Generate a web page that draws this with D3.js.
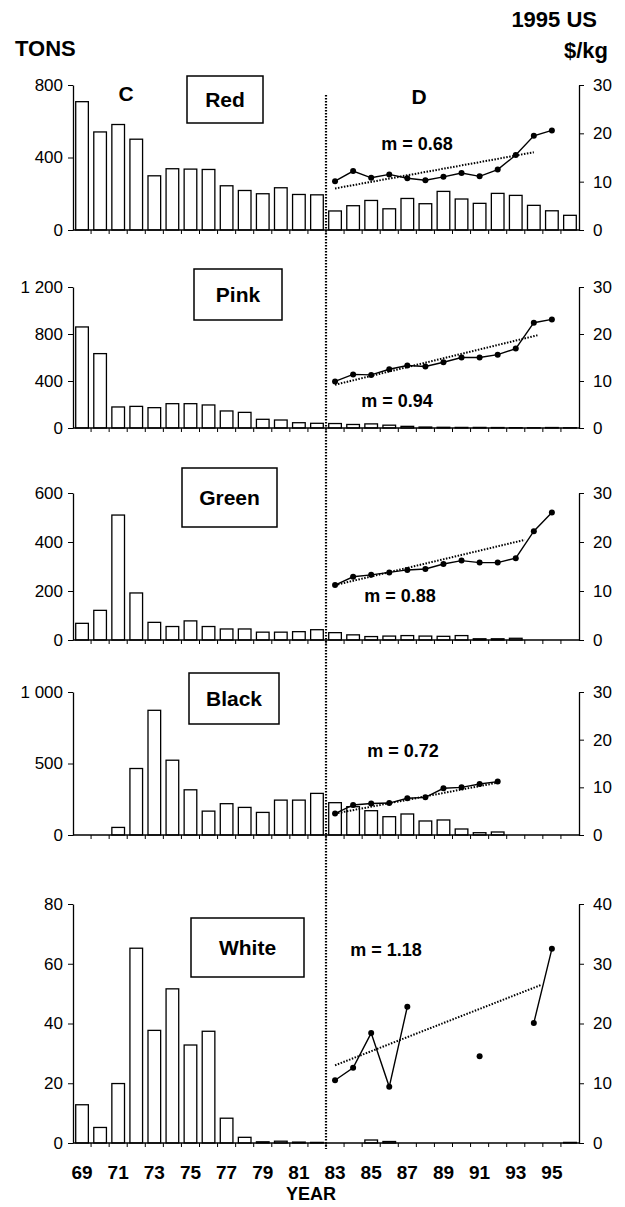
<!DOCTYPE html>
<html>
<head>
<meta charset="utf-8">
<script src="https://cdn.jsdelivr.net/npm/d3@7"></script>
<style>
  body { margin: 0; background: #fff; }
  text { font-family: "Liberation Sans", Arial, sans-serif; fill: #000; }
</style>
</head>
<body>
<svg id="chart"></svg>
<script>
// catch years (19xx) and the years with price records
const years = [69, 70, 71, 72, 73, 74, 75, 76, 77, 78, 79, 80, 81, 82,
               83, 84, 85, 86, 87, 88, 89, 90, 91, 92, 93, 94, 95, 96];
const priceYears = [83, 84, 85, 86, 87, 88, 89, 90, 91, 92, 93, 94, 95];
const yearLabels = [69, 71, 73, 75, 77, 79, 81, 83, 85, 87, 89, 91, 93, 95];

// landings in tons, one value per year
const redTons   = [708, 541, 582, 501, 299, 338, 336, 334, 244, 218, 200, 233, 196, 194,
                   105, 134, 163, 117, 174, 145, 213, 171, 147, 202, 191, 136, 106, 81];
const pinkTons  = [860, 633, 179, 184, 173, 207, 207, 196, 145, 133, 74, 68, 45, 40,
                   38, 30, 35, 24, 14, 8, 6, 5, 5, 4, 3, 2, 4, 2];
const greenTons = [68, 121, 510, 192, 72, 55, 78, 55, 45, 45, 32, 32, 34, 42,
                   30, 21, 14, 16, 18, 16, 15, 18, 5, 5, 7, 0, 0, 0];
const blackTons = [0, 0, 53, 465, 872, 523, 316, 167, 219, 193, 158, 244, 244, 291,
                   226, 198, 170, 128, 147, 98, 105, 42, 16, 21, 0, 0, 0, 0];
const whiteTons = [12.8, 5.2, 19.9, 65.2, 37.7, 51.6, 32.8, 37.4, 8.3, 1.9, 0.4, 0.6, 0.3, 0.2,
                   0, 0, 1, 0.5, 0, 0, 0, 0, 0, 0, 0, 0, 0, 0.2];

// price, 1995 US $/kg (null = no record)
const redPrice   = [10.1, 12.2, 10.8, 11.5, 10.7, 10.3, 11.0, 11.8, 11.1, 12.5, 15.5, 19.5, 20.6];
const pinkPrice  = [9.9, 11.4, 11.3, 12.5, 13.3, 13.1, 14.0, 15.0, 15.0, 15.6, 16.9, 22.4, 23.1];
const greenPrice = [11.2, 12.9, 13.3, 13.8, 14.3, 14.5, 15.5, 16.2, 15.8, 15.8, 16.7, 22.2, 26.0];
const blackPrice = [4.5, 6.3, 6.6, 6.7, 7.7, 7.9, 9.8, 10.0, 10.7, 11.2, null, null, null];
const whitePrice = [10.5, 12.6, 18.4, 9.4, 22.8, null, null, null, 14.5, null, null, 20.1, 32.5];

// price trend: slope m, value at 83 and last year of the fitted line
const trendSlope = [0.68, 0.94, 0.88, 0.72, 1.18];
const trendStart = [8.6, 9.2, 11.2, 4.5, 13.0];
const trendEnd   = [94, 94.2, 93.5, 92, 94.4];

const species = ["Red", "Pink", "Green", "Black", "White"];
const tons = [redTons, pinkTons, greenTons, blackTons, whiteTons];
const prices = [redPrice, pinkPrice, greenPrice, blackPrice, whitePrice];
const tonTicks = [[0, 400, 800], [0, 400, 800, 1200], [0, 200, 400, 600], [0, 500, 1000], [0, 20, 40, 60, 80]];
const priceTicks = [[0, 10, 20, 30], [0, 10, 20, 30], [0, 10, 20, 30], [0, 10, 20, 30], [0, 10, 20, 30, 40]];

// panel layout
const layout = [
  { top: 85,  bottom: 230,  box: [187, 76, 76, 47],   mAt: [417, 150] },
  { top: 287, bottom: 428,  box: [194, 269, 88, 51],  mAt: [397, 407] },
  { top: 493, bottom: 640,  box: [182, 468, 95, 59],  mAt: [400, 602] },
  { top: 692, bottom: 835,  box: [189, 673, 90, 51],  mAt: [403, 757] },
  { top: 904, bottom: 1143, box: [191, 918, 113, 59], mAt: [386, 956] }
];

const W = 625, H = 1207;
const left = 73, right = 579;
const svg = d3.select("#chart").attr("width", W).attr("height", H);

const fmt = d3.formatLocale({ decimal: ".", thousands: " ", grouping: [3], currency: ["", ""] }).format(",");

const x = d3.scaleBand().domain(years).range([left, right]).paddingInner(0.3).paddingOuter(0.15);
const half = x.bandwidth() / 2;
const edge = (x.step() - x.bandwidth()) / 2;
// continuous year scale through band centres, used for the trend lines
const xl = d3.scaleLinear().domain([69, 96]).range([x(69) + half, x(96) + half]);

species.forEach((name, i) => {
  const L = layout[i];
  const g = svg.append("g");
  const yL = d3.scaleLinear().domain([0, d3.max(tonTicks[i])]).range([L.bottom, L.top]);
  const yR = d3.scaleLinear().domain([0, d3.max(priceTicks[i])]).range([L.bottom, L.top]);

  // bars
  g.selectAll("rect.bar")
    .data(years.map((yr, j) => ({ yr, v: tons[i][j] })).filter(d => d.v > 0))
    .enter().append("rect")
    .attr("class", "bar")
    .attr("x", d => x(d.yr))
    .attr("y", d => yL(d.v))
    .attr("width", x.bandwidth())
    .attr("height", d => yL(0) - yL(d.v))
    .attr("fill", "#fff")
    .attr("stroke", "#000")
    .attr("stroke-width", 1.3);

  // left axis
  const axL = g.append("g")
    .attr("transform", `translate(${left},0)`)
    .call(d3.axisLeft(yL).tickValues(tonTicks[i]).tickFormat(fmt).tickSize(5).tickSizeOuter(0).tickPadding(5));
  axL.select(".domain").attr("stroke-width", 1.3);
  axL.selectAll("text").attr("font-size", 17).attr("font-family", null);

  // right axis
  const axR = g.append("g")
    .attr("transform", `translate(${right},0)`)
    .call(d3.axisRight(yR).tickValues(priceTicks[i]).tickSize(5).tickSizeOuter(0).tickPadding(9));
  axR.select(".domain").attr("stroke-width", 1.3);
  axR.selectAll("text").attr("font-size", 17).attr("font-family", null);

  // baseline with small ticks between the bars
  g.append("line")
    .attr("x1", left).attr("x2", right)
    .attr("y1", L.bottom).attr("y2", L.bottom)
    .attr("stroke", "#000").attr("stroke-width", 1.3);
  g.selectAll("line.xt")
    .data(years.slice(1))
    .enter().append("line")
    .attr("class", "xt")
    .attr("x1", d => x(d) - edge).attr("x2", d => x(d) - edge)
    .attr("y1", L.bottom).attr("y2", L.bottom + 4)
    .attr("stroke", "#000").attr("stroke-width", 1);

  // price trend (dotted)
  const t0 = 83, t1 = trendEnd[i];
  g.append("line")
    .attr("x1", xl(t0)).attr("y1", yR(trendStart[i]))
    .attr("x2", xl(t1)).attr("y2", yR(trendStart[i] + trendSlope[i] * (t1 - t0)))
    .attr("stroke", "#000").attr("stroke-width", 2)
    .attr("stroke-dasharray", "1.5,1.5");

  // price line and points
  const pts = priceYears.map((yr, j) => ({ yr, v: prices[i][j] }));
  g.append("path")
    .datum(pts)
    .attr("fill", "none").attr("stroke", "#000").attr("stroke-width", 1.4)
    .attr("d", d3.line().defined(d => d.v != null).x(d => x(d.yr) + half).y(d => yR(d.v)));
  g.selectAll("circle")
    .data(pts.filter(d => d.v != null))
    .enter().append("circle")
    .attr("cx", d => x(d.yr) + half)
    .attr("cy", d => yR(d.v))
    .attr("r", 3).attr("fill", "#000");

  // species box
  const [bx, by, bw, bh] = L.box;
  g.append("rect")
    .attr("x", bx).attr("y", by).attr("width", bw).attr("height", bh)
    .attr("fill", "#fff").attr("stroke", "#000").attr("stroke-width", 1.5);
  g.append("text")
    .attr("x", bx + bw / 2).attr("y", by + bh / 2 + 7.5)
    .attr("text-anchor", "middle").attr("font-size", 21).attr("font-weight", "bold")
    .text(name);

  // slope label
  g.append("text")
    .attr("x", L.mAt[0]).attr("y", L.mAt[1])
    .attr("text-anchor", "middle").attr("font-size", 18).attr("font-weight", "bold")
    .text("m = " + trendSlope[i].toFixed(2));
});

// split between the two periods
const splitX = x(83) - edge;
svg.append("line")
  .attr("x1", splitX).attr("x2", splitX)
  .attr("y1", 95).attr("y2", layout[4].bottom + 6)
  .attr("stroke", "#000").attr("stroke-width", 2.2)
  .attr("stroke-dasharray", "1.5,1.5");

// year labels on the bottom panel
svg.selectAll("text.yr")
  .data(yearLabels)
  .enter().append("text")
  .attr("class", "yr")
  .attr("x", d => x(d) + half)
  .attr("y", 1179)
  .attr("text-anchor", "middle").attr("font-size", 19).attr("font-weight", "bold")
  .text(d => d);

const title = (t, xx, yy, anchor, size) => svg.append("text")
  .attr("x", xx).attr("y", yy).attr("text-anchor", anchor)
  .attr("font-size", size).attr("font-weight", "bold").text(t);

title("YEAR", 311, 1200, "middle", 18);
title("TONS", 15, 56, "start", 22);
title("1995 US", 597, 27, "end", 22);
title("$/kg", 608, 58, "end", 22);
title("C", 126, 101, "middle", 21);
title("D", 419, 104, "middle", 21);
</script>
</body>
</html>
